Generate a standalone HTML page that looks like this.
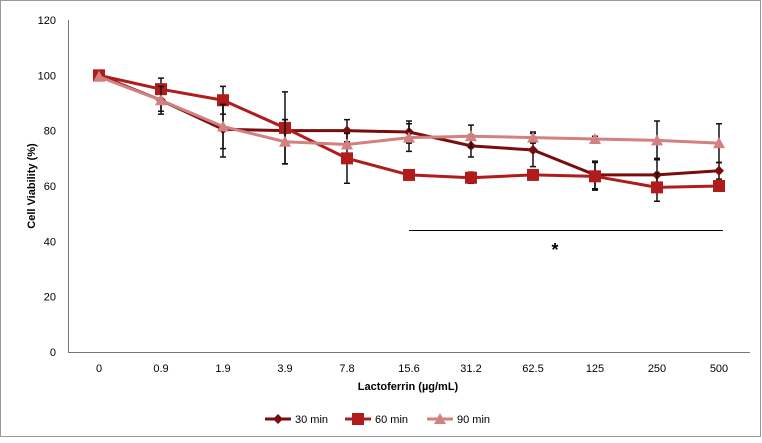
<!DOCTYPE html>
<html><head><meta charset="utf-8"><style>
body{margin:0;background:#fff;font-family:"Liberation Sans",sans-serif}
svg text{font-family:"Liberation Sans",sans-serif;fill:#000}
</style></head><body>
<svg width="762" height="438" id="c">
<rect x="0.5" y="0.5" width="760" height="436" fill="#fff" stroke="#999"/>
</svg>
<script>
const categories=["0","0.9","1.9","3.9","7.8","15.6","31.2","62.5","125","250","500"];
const yTicks=[0,20,40,60,80,100,120];
const s30=[100,91,80.5,80,80,79.5,74.5,73,64,64,65.5];
const s60=[100,95,91,81,70,64,63,64,63.5,59.5,60];
const s90=[99.5,91,81.5,76,75,77.5,78,77.5,77,76.5,75.5];
const e30=[0,4,10,4,4,4,4,6,5,6,3];
const e60=[0,4,5,13,9,0,2,0,5,5,0];
const e90=[0,5,8,8,0,5,4,2,1,7,7];
const names=["30 min","60 min","90 min"];
const svg=document.getElementById('c');const NS="http://www.w3.org/2000/svg";
function mk(t,a,p){const e=document.createElementNS(NS,t);for(const k in a)e.setAttribute(k,a[k]);(p||svg).appendChild(e);return e;}
const x0=68,x1=750,yb=352,yt=20;
const bw=(x1-x0)/categories.length;
const X=i=>x0+bw*(i+0.5);
const Y=v=>yb-(v/120)*(yb-yt);
yTicks.forEach(t=>{const e=mk('text',{x:56,y:Y(t)+4,'text-anchor':'end','font-size':11});e.textContent=t;

});
let a=mk('line',{x1:x0+0.5,y1:yt,x2:x0+0.5,y2:yb,stroke:'#777'});


a=mk('line',{x1:x0,y1:yb+0.5,x2:x1,y2:yb+0.5,stroke:'#777'});


categories.forEach((c,i)=>{const e=mk('text',{x:X(i),y:372,'text-anchor':'middle','font-size':11});e.textContent=c;

});
let t=mk('text',{x:408,y:390,'text-anchor':'middle','font-size':11,'font-weight':'bold'});t.textContent="Lactoferrin (µg/mL)";


t=mk('text',{x:0,y:0,'text-anchor':'middle','font-size':11,'font-weight':'bold',transform:'translate(35,186) rotate(-90)'});t.textContent="Cell Viability (%)";


t=mk('line',{x1:X(5),y1:230.5,x2:X(10)+4,y2:230.5,stroke:'#000','stroke-width':1});


t=mk('text',{x:555,y:256,'text-anchor':'middle','font-size':18,'font-weight':'bold'});t.textContent="*";


const series=[[s30,e30,'#7b0c0c','d'],[s60,e60,'#b01c1c','s'],[s90,e90,'#d38080','t']];
function marker(type,x,y,col,g){
 if(type==='d')return mk('polygon',{points:`${x},${y-5} ${x+5},${y} ${x},${y+5} ${x-5},${y}`,fill:col},g);
 if(type==='s')return mk('rect',{x:x-6,y:y-6,width:12,height:12,fill:col},g);
 return mk('polygon',{points:`${x},${y-6} ${x+6},${y+5} ${x-6},${y+5}`,fill:col},g);}
series.forEach(([vals,errs,col,m],si)=>{
 const g=mk('g',{});
 
 
 vals.forEach((v,i)=>{if(!errs[i])return;const x=X(i);
  const eb=mk('path',{d:`M${x},${Y(v-errs[i])}V${Y(v+errs[i])}M${x-3},${Y(v-errs[i])}h6M${x-3},${Y(v+errs[i])}h6`,stroke:'#111','stroke-width':1.5,fill:'none'},g);
  
  });
 const l=mk('polyline',{points:vals.map((v,i)=>X(i)+','+Y(v)).join(' '),fill:'none',stroke:col,'stroke-width':3},g);
 
 
 vals.forEach((v,i)=>{const p=marker(m,X(i),Y(v),col,g);
  
  });
});
const lx=[265,345,427];
series.forEach(([v,e,col,m],i)=>{const g=mk('g',{});
 
 
 mk('line',{x1:lx[i],y1:419,x2:lx[i]+26,y2:419,stroke:col,'stroke-width':3},g);
 marker(m,lx[i]+13,419,col,g);
 const tx=mk('text',{x:lx[i]+30,y:423,'font-size':11},g);tx.textContent=names[i];});
</script>
</body></html>
